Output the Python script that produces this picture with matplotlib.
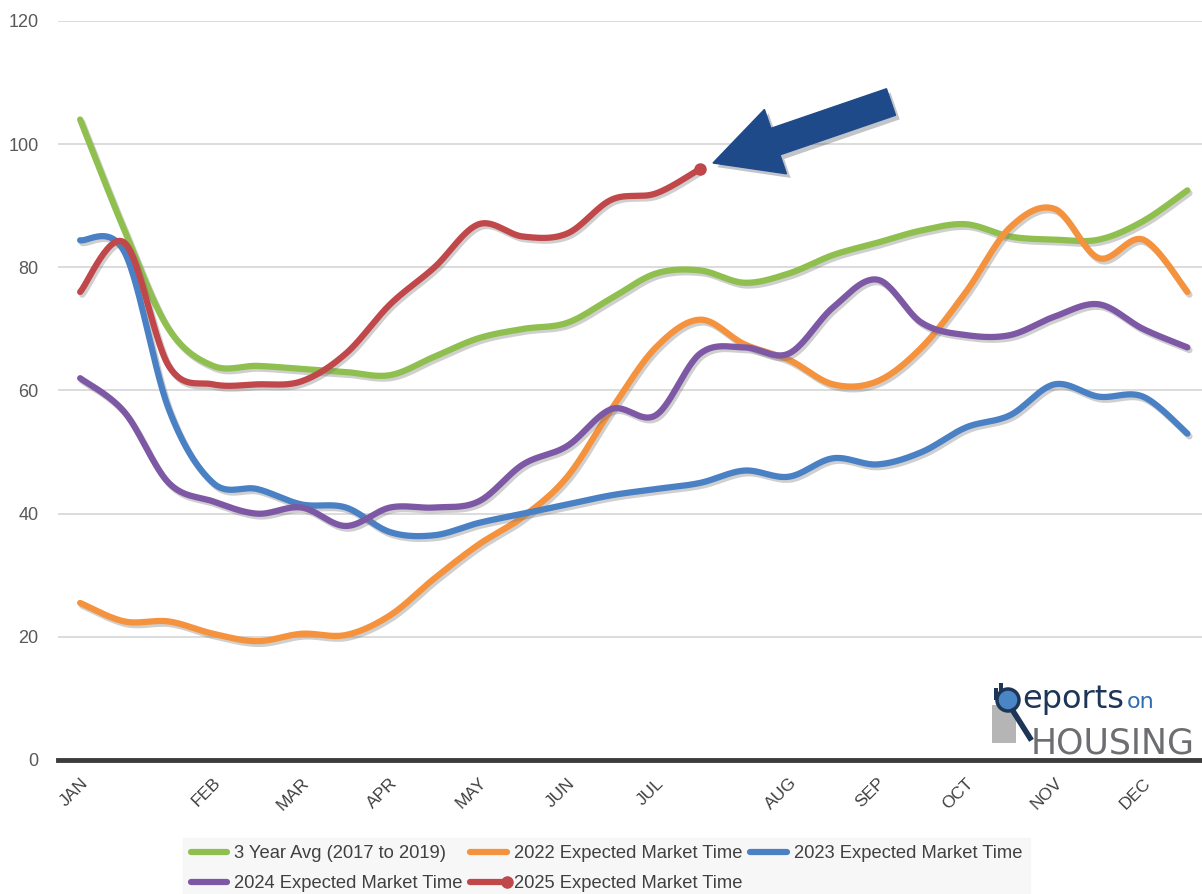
import numpy as np
import matplotlib
matplotlib.use('Agg')
import matplotlib.pyplot as plt
from matplotlib.lines import Line2D
from matplotlib.legend_handler import HandlerLine2D
from matplotlib.patches import FancyArrow, Rectangle, Circle
from matplotlib.transforms import IdentityTransform
import matplotlib.patheffects as pe

# ---------------- data ----------------
months = ['JAN', 'FEB', 'MAR', 'APR', 'MAY', 'JUN', 'JUL', 'AUG', 'SEP', 'OCT', 'NOV', 'DEC']
month_pos = [0, 3, 5, 7, 9, 11, 13, 16, 18, 20, 22, 24]

avg_3yr = [104, 86, 70, 64, 64, 63.5, 63, 62.5, 65.5, 68.5, 70, 71, 75, 79, 79.5, 77.5,
           79, 82, 84, 86, 87, 85, 84.5, 84.5, 87.5, 92.5]
y2022 = [25.5, 22.5, 22.5, 20.5, 19.3, 20.5, 20.3, 23.5, 29.5, 35, 39.5, 46, 57, 67, 71.5,
         67.5, 65, 61, 61.5, 67, 76, 86.5, 89.5, 81.5, 84.5, 76]
y2023 = [84.4, 82.5, 57, 45, 44, 41.5, 41, 37, 36.5, 38.5, 40, 41.5, 43, 44, 45, 47, 46, 49,
         48, 50, 54, 56, 61, 59, 59, 53]
y2024 = [62, 56.5, 45, 42, 40, 41, 38, 41, 41, 42, 48, 51, 57, 56, 66, 67, 66, 73.5, 78, 71,
         69, 69, 72, 74, 70, 67]
y2025 = [76, 84, 64, 61, 61, 61.5, 66, 74, 80, 87, 85, 85.5, 91, 92, 96]

labels = ['3 Year Avg (2017 to 2019)', '2022 Expected Market Time', '2023 Expected Market Time',
          '2024 Expected Market Time', '2025 Expected Market Time']
colors = ['#8FC04F', '#F5923E', '#4A80C4', '#7D58A5', '#C0474A']

SANS = ['Liberation Sans', 'DejaVu Sans']


def smooth(y, n=30):
    """Excel-like smoothed line (Catmull-Rom Bezier through the points)."""
    y = np.asarray(y, float)
    x = np.arange(len(y), dtype=float)
    P = np.column_stack([x, y])
    Pp = np.vstack([P[0], P, P[-1]])
    t = np.linspace(0, 1, n)[:, None]
    out = []
    for i in range(len(P) - 1):
        p0, p1, p2, p3 = Pp[i], Pp[i + 1], Pp[i + 2], Pp[i + 3]
        c1 = p1 + (p2 - p0) / 6
        c2 = p2 - (p3 - p1) / 6
        seg = (1 - t) ** 3 * p1 + 3 * (1 - t) ** 2 * t * c1 + 3 * (1 - t) * t ** 2 * c2 + t ** 3 * p2
        out.append(seg if i == 0 else seg[1:])
    out = np.vstack(out)
    return out[:, 0], out[:, 1]


W, H = 1202, 894
fig = plt.figure(figsize=(W / 100, H / 100), dpi=100)
fig.patch.set_facecolor('white')
ax = fig.add_axes([58 / W, 1 - 760 / H, 1 - 58 / W, (760 - 21) / H])
ax.set_xlim(-0.5, 25.33)
ax.set_ylim(0, 120)

for s in ['top', 'right', 'left']:
    ax.spines[s].set_visible(False)
ax.spines['bottom'].set_color('#3c3c3c')
ax.spines['bottom'].set_linewidth(3.5)
ax.spines['bottom'].set_zorder(5)

ax.set_yticks(range(0, 121, 20))
ax.yaxis.grid(True, color='#d9d9d9', lw=1.3)
ax.set_axisbelow(True)
ax.tick_params(axis='y', length=0, pad=14, labelsize=13, labelcolor='#595959')
for lab in ax.get_yticklabels():
    lab.set_family(SANS)

ax.set_xticks(month_pos)
ax.set_xticklabels(months, rotation=45, ha='right', rotation_mode='anchor')
ax.tick_params(axis='x', length=0, pad=11, labelsize=12.5, labelcolor='#404040')
for lab in ax.get_xticklabels():
    lab.set_family(SANS)

shadow = [pe.SimpleLineShadow(offset=(1.5, -2), shadow_color='#777777', alpha=0.35), pe.Normal()]
series = [avg_3yr, y2022, y2023, y2024, y2025]
for vals, c in zip(series, colors):
    xs, ys = smooth(vals)
    ax.plot(xs, ys, color=c, lw=4.5, solid_capstyle='round', solid_joinstyle='round',
            path_effects=shadow, zorder=3)
ax.plot([len(y2025) - 1], [y2025[-1]], 'o', color=colors[4], ms=8, zorder=4)


# ---------------- legend ----------------
class EndMarkerHandler(HandlerLine2D):
    def create_artists(self, legend, orig_handle, xdescent, ydescent, width, height, fontsize, trans):
        arts = super().create_artists(legend, orig_handle, xdescent, ydescent, width, height, fontsize, trans)
        for a in arts:
            a.set_markevery([-1])
        return arts


handles = [Line2D([], [], color=c, lw=4.5, solid_capstyle='round') for c in colors[:4]]
red_h = Line2D([], [], color=colors[4], lw=4.5, solid_capstyle='round', marker='o', ms=8)
handles.append(red_h)
order = [0, 3, 1, 4, 2]
leg = fig.legend([handles[i] for i in order], [labels[i] for i in order], ncol=3,
                 loc='upper left', bbox_to_anchor=(174 / W, 1 - 829 / H),
                 frameon=True, facecolor='#f5f5f5', edgecolor='#f5f5f5', fancybox=False,
                 prop={'family': SANS, 'size': 13.2}, handlelength=2.0, handletextpad=0.4,
                 columnspacing=0.4, labelspacing=0.7, borderpad=0.4,
                 handler_map={red_h: EndMarkerHandler()})
for t in leg.get_texts():
    t.set_color('#404040')

# ---------------- arrow annotation ----------------
idt = IdentityTransform()
arrow = FancyArrow(891, H - 102, -178, -61, width=28, head_width=68, head_length=66,
                   length_includes_head=True, color='#1F4A8A', transform=idt,
                   path_effects=[pe.SimplePatchShadow(offset=(3, -3), alpha=0.25), pe.Normal()])
fig.add_artist(arrow)

# ---------------- logo ----------------
fig.add_artist(Rectangle((992, H - 743), 24, 38, transform=idt, facecolor='#b5b5b5', edgecolor='none'))
for bx, top in [(994, 688), (999, 683), (1004, 690)]:
    fig.add_artist(Rectangle((bx, H - 700), 4, 700 - top, transform=idt, facecolor='#1d3557',
                             edgecolor='none'))
fig.add_artist(Circle((1008, H - 700), 11, transform=idt, facecolor='#4a86c5', edgecolor='#1d3557', lw=2.5))
fig.add_artist(Line2D([1013, 1030], [H - 711, H - 738], transform=idt, color='#1d3557', lw=4))
fig.text(1022 / W, 1 - 708 / H, 'eports', fontsize=23, color='#1d3557', ha='left', va='baseline',
         family='DejaVu Sans')
fig.text(1127 / W, 1 - 708 / H, 'on', fontsize=16, color='#2f6db3', ha='left', va='baseline',
         family='DejaVu Sans')
fig.text(1031 / W, 1 - 753 / H, 'HOUSING', fontsize=25, color='#6d6e71', ha='left', va='baseline',
         family='DejaVu Sans')

fig.savefig('out.png', dpi=100)
